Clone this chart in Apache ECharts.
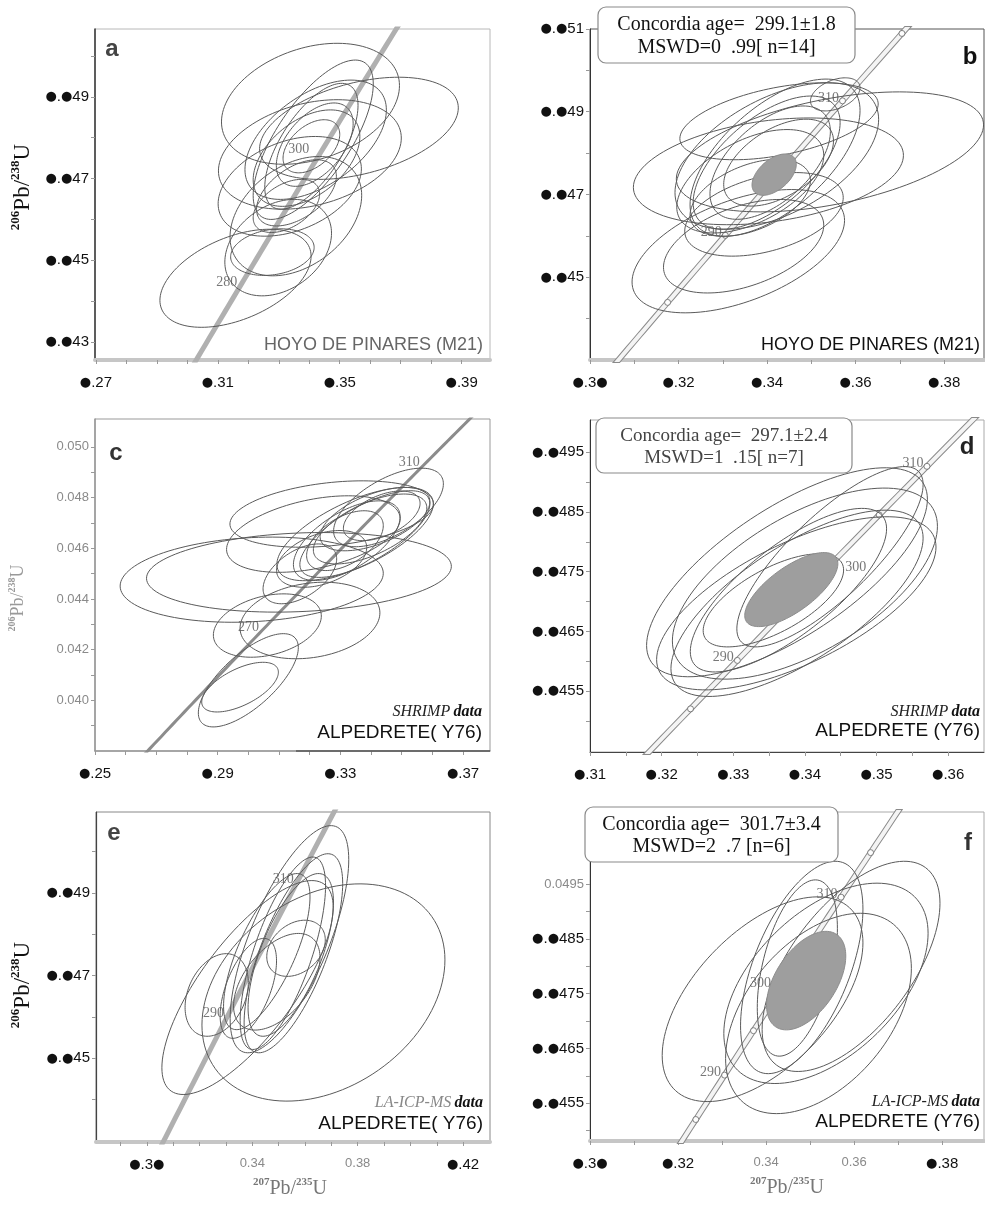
<!DOCTYPE html>
<html>
<head>
<meta charset="utf-8">
<script src="https://cdn.jsdelivr.net/npm/echarts@6/dist/echarts.min.js"></script>
<style>
  html, body { margin: 0; padding: 0; background: #fff; }
  #chart { width: 985px; height: 1208px; }
</style>
</head>
<body>
<div id="chart"></div>
<script>
// U decay constants (per year), used for the Wetherill concordia curve
const LAMBDA_238 = 1.55125e-10;
const LAMBDA_235 = 9.8485e-10;

// Analyses as error ellipses: [207Pb/235U, ±, 206Pb/238U, ±, rho]
const ellipsesA = [
  [0.3404, 0.0292, 0.04883, 0.00148, 0.30],
  [0.3563, 0.0326, 0.04823, 0.00125, 0.40],
  [0.3402, 0.0300, 0.04759, 0.00134, 0.30],
  [0.3356, 0.0216, 0.04608, 0.00146, 0.35],
  [0.3298, 0.0175, 0.04531, 0.00118, 0.30],
  [0.3158, 0.0248, 0.04456, 0.00120, 0.45],
  [0.3279, 0.0137, 0.04520, 0.00057, 0.20],
  [0.3413, 0.0197, 0.04795, 0.00195, 0.70],
  [0.3407, 0.0153, 0.04779, 0.00154, 0.65],
  [0.3418, 0.0126, 0.04783, 0.00102, 0.50],
  [0.3421, 0.0232, 0.04795, 0.00146, 0.50],
  [0.3407, 0.0093, 0.04779, 0.00065, 0.45],
  [0.3391, 0.0175, 0.04750, 0.00118, 0.45],
  [0.3358, 0.0131, 0.04665, 0.00081, 0.50],
  [0.3325, 0.0109, 0.04633, 0.00065, 0.45],
  [0.3336, 0.0235, 0.04681, 0.00122, 0.35]
];
const ellipsesB = [
  [0.3542, 0.0347, 0.04803, 0.00145, 0.45],
  [0.3403, 0.0305, 0.04756, 0.00129, 0.30],
  [0.3335, 0.0240, 0.04563, 0.00149, 0.50],
  [0.3347, 0.0181, 0.04575, 0.00113, 0.45],
  [0.3393, 0.0179, 0.04652, 0.00101, 0.40],
  [0.3422, 0.0230, 0.04793, 0.00177, 0.50],
  [0.3418, 0.0192, 0.04789, 0.00190, 0.60],
  [0.3399, 0.0166, 0.04777, 0.00161, 0.60],
  [0.3407, 0.0136, 0.04777, 0.00137, 0.55],
  [0.3426, 0.0124, 0.04777, 0.00105, 0.50],
  [0.3362, 0.0166, 0.04732, 0.00125, 0.50],
  [0.3362, 0.0136, 0.04692, 0.00093, 0.45],
  [0.3554, 0.0056, 0.04942, 0.00040, 0.40],
  [0.3427, 0.0224, 0.04877, 0.00093, 0.45]
];
const ellipsesC = [
  [0.3011, 0.0429, 0.04476, 0.00168, 0.15],
  [0.3165, 0.0497, 0.04505, 0.00157, 0.15],
  [0.3272, 0.0332, 0.04735, 0.00131, 0.30],
  [0.3062, 0.0176, 0.04295, 0.00125, 0.30],
  [0.3201, 0.0228, 0.04315, 0.00151, 0.20],
  [0.3000, 0.0163, 0.04079, 0.00184, 0.70],
  [0.2973, 0.0125, 0.04052, 0.00098, 0.60],
  [0.3348, 0.0255, 0.04656, 0.00184, 0.65],
  [0.3380, 0.0212, 0.04656, 0.00171, 0.70],
  [0.3397, 0.0185, 0.04676, 0.00138, 0.60],
  [0.3457, 0.0179, 0.04761, 0.00155, 0.60],
  [0.3413, 0.0179, 0.04715, 0.00125, 0.55],
  [0.3321, 0.0174, 0.04630, 0.00157, 0.60],
  [0.3315, 0.0125, 0.04630, 0.00118, 0.50],
  [0.3435, 0.0125, 0.04728, 0.00098, 0.50],
  [0.3239, 0.0147, 0.04558, 0.00112, 0.40],
  [0.3212, 0.0283, 0.04656, 0.00151, 0.40],
  [0.3168, 0.0120, 0.04499, 0.00118, 0.50]
];
const ellipsesD = [
  [0.3375, 0.0196, 0.04749, 0.00175, 0.70],
  [0.3388, 0.0195, 0.04697, 0.00145, 0.65],
  [0.3389, 0.0176, 0.04697, 0.00156, 0.70],
  [0.3377, 0.0137, 0.04719, 0.00137, 0.75],
  [0.3356, 0.0098, 0.04702, 0.00078, 0.65],
  [0.3435, 0.0130, 0.04775, 0.00151, 0.80],
  [0.3400, 0.0185, 0.04730, 0.00160, 0.60]
];
const ellipsesE = [
  [0.3670, 0.0461, 0.04659, 0.00263, 0.30],
  [0.3382, 0.0325, 0.04671, 0.00259, 0.75],
  [0.3265, 0.0120, 0.04653, 0.00100, 0.30],
  [0.3541, 0.0225, 0.04788, 0.00275, 0.70],
  [0.3556, 0.0187, 0.04754, 0.00241, 0.70],
  [0.3516, 0.0162, 0.04754, 0.00233, 0.70],
  [0.3546, 0.0162, 0.04750, 0.00197, 0.65],
  [0.3455, 0.0164, 0.04758, 0.00189, 0.70],
  [0.3566, 0.0111, 0.04766, 0.00068, 0.30],
  [0.3385, 0.0107, 0.04669, 0.00121, 0.55],
  [0.3493, 0.0164, 0.04685, 0.00117, 0.50]
];
const ellipsesF = [
  [0.3392, 0.0228, 0.04740, 0.00187, 0.55],
  [0.3593, 0.0202, 0.04800, 0.00192, 0.60],
  [0.3536, 0.0232, 0.04769, 0.00183, 0.50],
  [0.3481, 0.0139, 0.04798, 0.00194, 0.55],
  [0.3471, 0.0091, 0.04797, 0.00161, 0.45],
  [0.3519, 0.0211, 0.04714, 0.00183, 0.45]
];

// Concordia-age ellipses (filled)
const meanB = [[0.3416, 0.0050, 0.04748, 0.00050, 0.50]];
const meanD = [[0.3381, 0.0065, 0.04720, 0.00062, 0.70]];
const meanF = [[0.3491, 0.0090, 0.04774, 0.00090, 0.50]];

// Age ticks on the concordia (Ma) and the ones that carry a label
const markerAgesB = [280, 290, 300, 310, 320];
const markerAgesD = [285, 290, 295, 300, 305, 310];
const markerAgesF = [285, 290, 295, 300, 305, 310, 315];
const labelAgesA = [280, 300];
const labelAgesB = [290, 310];
const labelAgesC = [270, 310];
const labelAgesD = [290, 300, 310];
const labelAgesE = [290, 310];
const labelAgesF = [290, 300, 310];

// Axis ticks and their printed labels
const xTicksA = [0.27, 0.31, 0.35, 0.39];
const xLabelsA = ['●.27', '●.31', '●.35', '●.39'];
const xMinorA = [0.28, 0.29, 0.30, 0.32, 0.33, 0.34, 0.36, 0.37, 0.38];
const yTicksA = [0.043, 0.045, 0.047, 0.049];
const yLabelsA = ['●.●43', '●.●45', '●.●47', '●.●49'];
const yMinorA = [0.044, 0.046, 0.048, 0.050];

const xTicksB = [0.30, 0.32, 0.34, 0.36, 0.38];
const xLabelsB = ['●.3●', '●.32', '●.34', '●.36', '●.38'];
const xMinorB = [0.31, 0.33, 0.35, 0.37];
const yTicksB = [0.045, 0.047, 0.049, 0.051];
const yLabelsB = ['●.●45', '●.●47', '●.●49', '●.●51'];
const yMinorB = [0.044, 0.046, 0.048, 0.050];

const xTicksC = [0.25, 0.29, 0.33, 0.37];
const xLabelsC = ['●.25', '●.29', '●.33', '●.37'];
const xMinorC = [0.26, 0.27, 0.28, 0.30, 0.31, 0.32, 0.34, 0.35, 0.36];
const yTicksC = [0.040, 0.042, 0.044, 0.046, 0.048, 0.050];
const yLabelsC = ['0.040', '0.042', '0.044', '0.046', '0.048', '0.050'];
const yMinorC = [0.039, 0.041, 0.043, 0.045, 0.047, 0.049];

const xTicksD = [0.31, 0.32, 0.33, 0.34, 0.35, 0.36];
const xLabelsD = ['●.31', '●.32', '●.33', '●.34', '●.35', '●.36'];
const xMinorD = [0.315, 0.325, 0.335, 0.345, 0.355];
const yTicksD = [0.0455, 0.0465, 0.0475, 0.0485, 0.0495];
const yLabelsD = ['●.●455', '●.●465', '●.●475', '●.●485', '●.●495'];
const yMinorD = [0.0450, 0.0460, 0.0470, 0.0480, 0.0490];

const xTicksE = [0.30, 0.34, 0.38, 0.42];
const xLabelsE = ['●.3●', '0.34', '0.38', '●.42'];
const xMinorE = [0.29, 0.31, 0.32, 0.33, 0.35, 0.36, 0.37, 0.39, 0.40, 0.41];
const yTicksE = [0.045, 0.047, 0.049];
const yLabelsE = ['●.●45', '●.●47', '●.●49'];
const yMinorE = [0.044, 0.046, 0.048, 0.050];

const xTicksF = [0.30, 0.32, 0.34, 0.36, 0.38];
const xLabelsF = ['●.3●', '●.32', '0.34', '0.36', '●.38'];
const xMinorF = [0.31, 0.33, 0.35, 0.37];
const yTicksF = [0.0455, 0.0465, 0.0475, 0.0485, 0.0495];
const yLabelsF = ['●.●455', '●.●465', '●.●475', '●.●485', '0.0495'];
const yMinorF = [0.0450, 0.0460, 0.0470, 0.0480, 0.0490, 0.0500];

// Panel text
const sampleAB = 'HOYO DE PINARES (M21)';
const summaryB = ['Concordia age=  299.1±1.8', 'MSWD=0  .99[ n=14]'];
const summaryD = ['Concordia age=  297.1±2.4', 'MSWD=1  .15[ n=7]'];
const summaryF = ['Concordia age=  301.7±3.4', 'MSWD=2  .7 [n=6]'];

// ---------------------------------------------------------------------------

const MA = 1e6;
function concordiaPoint(age) {
  return [Math.exp(LAMBDA_235 * age * MA) - 1, Math.exp(LAMBDA_238 * age * MA) - 1];
}
const curveAges = [];
for (let t = 220; t <= 340; t += 1) curveAges.push(t);
const concordiaCurve = curveAges.map(concordiaPoint);

const SANS = '"Liberation Sans", Arial, sans-serif';
const SERIF = '"Liberation Serif", "Times New Roman", serif';

const panels = [
  { key: 'a', grid: { left: 95, top: 29, width: 395, height: 331 },
    x: [0.2697, 0.3993], y: [0.04256, 0.05066],
    xT: xTicksA, xL: xLabelsA, xM: xMinorA, yT: yTicksA, yL: yLabelsA, yM: yMinorA,
    ell: ellipsesA, mean: null, markers: [], labels: labelAgesA, band: 'solid',
    leftLine: { color: '#333', width: 1.5 }, bottomLine: { color: '#c6c6c6', width: 4 }, border: '#b8b8b8' },
  { key: 'b', grid: { left: 590, top: 29, width: 394, height: 331 },
    x: [0.30, 0.389], y: [0.0430, 0.0510],
    xT: xTicksB, xL: xLabelsB, xM: xMinorB, yT: yTicksB, yL: yLabelsB, yM: yMinorB,
    ell: ellipsesB, mean: meanB, markers: markerAgesB, labels: labelAgesB, band: 'double',
    leftLine: { color: '#333', width: 1 }, bottomLine: { color: '#c6c6c6', width: 4 }, border: '#555' },
  { key: 'c', grid: { left: 95, top: 419, width: 395, height: 332 },
    x: [0.25, 0.3788], y: [0.0380, 0.0511],
    xT: xTicksC, xL: xLabelsC, xM: xMinorC, yT: yTicksC, yL: yLabelsC, yM: yMinorC,
    ell: ellipsesC, mean: null, markers: [], labels: labelAgesC, band: 'thin',
    leftLine: { color: '#999', width: 1.5 }, bottomLine: { color: '#999', width: 1.5 }, border: '#999' },
  { key: 'd', grid: { left: 590, top: 420, width: 394, height: 332 },
    x: [0.31, 0.365], y: [0.04448, 0.05004],
    xT: xTicksD, xL: xLabelsD, xM: xMinorD, yT: yTicksD, yL: yLabelsD, yM: yMinorD,
    ell: ellipsesD, mean: meanD, markers: markerAgesD, labels: labelAgesD, band: 'double',
    leftLine: { color: '#333', width: 1 }, bottomLine: { color: '#444', width: 1 }, border: '#aaa' },
  { key: 'e', grid: { left: 96, top: 812, width: 394, height: 330 },
    x: [0.2807, 0.4302], y: [0.04297, 0.05096],
    xT: xTicksE, xL: xLabelsE, xM: xMinorE, yT: yTicksE, yL: yLabelsE, yM: yMinorE,
    ell: ellipsesE, mean: null, markers: [], labels: labelAgesE, band: 'solid',
    leftLine: { color: '#444', width: 1.2 }, bottomLine: { color: '#c6c6c6', width: 4 }, border: '#888' },
  { key: 'f', grid: { left: 590, top: 812, width: 394, height: 329 },
    x: [0.30, 0.3895], y: [0.04481, 0.05082],
    xT: xTicksF, xL: xLabelsF, xM: xMinorF, yT: yTicksF, yL: yLabelsF, yM: yMinorF,
    ell: ellipsesF, mean: meanF, markers: markerAgesF, labels: labelAgesF, band: 'double',
    leftLine: { color: '#333', width: 1 }, bottomLine: { color: '#c6c6c6', width: 4 }, border: '#aaa' }
];

// tick label styles: dark labels with heavy round zeros, and light grey ones
const tickRich = {
  d: { color: '#111', fontFamily: SANS, fontSize: 15 },
  k: { color: '#111', fontFamily: '"DejaVu Sans", sans-serif', fontSize: 13, fontWeight: 'bold' },
  g: { color: '#8a8a8a', fontFamily: SANS, fontSize: 13 }
};
function tickFormatter(ticks, labels) {
  return function (v) {
    const i = ticks.findIndex(t => Math.abs(t - v) < 1e-9);
    if (i < 0) return '';
    const s = labels[i];
    if (s.indexOf('●') < 0) return '{g|' + s + '}';
    // split into runs so the round glyphs can be sized separately
    return s.split(/(●)/).filter(part => part.length)
      .map(part => part === '●' ? '{k|●}' : '{d|' + part + '}').join('');
  };
}

function ellipseRenderer(filled) {
  return function (params, api) {
    const cx = api.value(0), dx = api.value(1), cy = api.value(2), dy = api.value(3), r = api.value(4);
    const s = Math.sqrt(1 - r * r);
    const pts = [];
    const n = 120;
    for (let i = 0; i < n; i++) {
      const t = i / n * Math.PI * 2;
      pts.push(api.coord([cx + dx * Math.cos(t), cy + dy * (r * Math.cos(t) + s * Math.sin(t))]));
    }
    const cs = params.coordSys;
    return {
      type: 'polygon',
      shape: { points: pts },
      clipPath: { type: 'rect', shape: { x: cs.x, y: cs.y, width: cs.width, height: cs.height } },
      style: filled
        ? { fill: '#9e9e9e', stroke: '#8c8c8c', lineWidth: 1 }
        : { fill: 'none', stroke: '#5a5a5a', lineWidth: 1 }
    };
  };
}

const grids = [], xAxes = [], yAxes = [], series = [];

panels.forEach((p, i) => {
  grids.push(Object.assign({ show: true, borderColor: p.border, borderWidth: 1, backgroundColor: 'transparent' }, p.grid));

  xAxes.push({
    gridIndex: i, type: 'value', min: p.x[0], max: p.x[1],
    axisLine: { show: true, onZero: false, lineStyle: p.bottomLine },
    axisTick: { show: true, customValues: p.xT.concat(p.xM), length: 4, lineStyle: { color: '#999' } },
    axisLabel: { show: true, customValues: p.xT, formatter: tickFormatter(p.xT, p.xL), rich: tickRich, margin: 15, hideOverlap: false },
    splitLine: { show: false }
  });
  yAxes.push({
    gridIndex: i, type: 'value', min: p.y[0], max: p.y[1],
    axisLine: { show: true, onZero: false, lineStyle: p.leftLine },
    axisTick: { show: true, customValues: p.yT.concat(p.yM), length: 4, lineStyle: { color: '#999' } },
    axisLabel: { show: true, customValues: p.yT, formatter: tickFormatter(p.yT, p.yL), rich: tickRich, margin: 6, hideOverlap: false },
    splitLine: { show: false }
  });

  // concordia band
  if (p.band === 'double') {
    series.push({ type: 'line', xAxisIndex: i, yAxisIndex: i, data: concordiaCurve, showSymbol: false, silent: true,
      clip: true, z: 1, lineStyle: { color: '#8a8a8a', width: 6 } });
    series.push({ type: 'line', xAxisIndex: i, yAxisIndex: i, data: concordiaCurve, showSymbol: false, silent: true,
      clip: true, z: 1, lineStyle: { color: '#f4f4f4', width: 4 } });
  } else {
    series.push({ type: 'line', xAxisIndex: i, yAxisIndex: i, data: concordiaCurve, showSymbol: false, silent: true,
      clip: true, z: 1, lineStyle: { color: p.band === 'thin' ? '#8c8c8c' : '#b0b0b0', width: p.band === 'thin' ? 3 : 5 } });
  }

  if (p.markers.length) {
    series.push({ type: 'scatter', xAxisIndex: i, yAxisIndex: i, data: p.markers.map(concordiaPoint), silent: true,
      symbol: 'circle', symbolSize: 6, z: 2, itemStyle: { color: '#fff', borderColor: '#666', borderWidth: 1 } });
  }
  series.push({ type: 'custom', xAxisIndex: i, yAxisIndex: i, data: p.ell, clip: true, silent: true, z: 3,
    encode: { x: 0, y: 2 }, renderItem: ellipseRenderer(false) });
  if (p.mean) {
    series.push({ type: 'custom', xAxisIndex: i, yAxisIndex: i, data: p.mean, clip: true, silent: true, z: 4,
      encode: { x: 0, y: 2 }, renderItem: ellipseRenderer(true) });
  }
  series.push({ type: 'scatter', xAxisIndex: i, yAxisIndex: i, silent: true, symbolSize: 1, z: 6,
    itemStyle: { color: 'rgba(0,0,0,0)' },
    data: p.labels.map(a => ({ value: concordiaPoint(a), age: a })),
    label: { show: true, position: 'left', distance: 3,
      formatter: prm => String(prm.data.age),
      fontFamily: SERIF, fontSize: 14, color: '#555',
      offset: [0, -3] }
  });
});

// label placement tweaks: d's 300 sits right of its tick; a's and f's 300 a little further left
series.forEach(s => {
  if (s.type === 'scatter' && s.label) {
    if (s.xAxisIndex === 3) {
      s.data = s.data.map(d => d.age === 300 ? Object.assign({}, d, { label: { position: 'right', offset: [10, 4] } }) : d);
    }
    if (s.xAxisIndex === 0 || s.xAxisIndex === 5) {
      s.data = s.data.map(d => d.age === 300 ? Object.assign({}, d, { label: { offset: [-8, -3] } }) : d);
    }
  }
});

// ---- annotations ----
const graphic = [];
function text(x, y, str, style, extra) {
  graphic.push(Object.assign({ type: 'text', x: x, y: y, z: 100, silent: true,
    style: Object.assign({ text: str, align: 'center', verticalAlign: 'middle' }, style) }, extra || {}));
}

// panel letters
[['a', 112, 49, '#444'], ['b', 970, 57, '#111'], ['c', 116, 453, '#333'],
 ['d', 967, 447, '#222'], ['e', 114, 833, '#444'], ['f', 968, 843, '#333']].forEach(l => {
  text(l[1], l[2], l[0], { font: 'bold 24px ' + SANS, fill: l[3] });
});

// sample names
text(483, 345, sampleAB, { font: '18px ' + SANS, fill: '#666', align: 'right' });
text(980, 345, sampleAB, { font: '18px ' + SANS, fill: '#111', align: 'right' });

const tagRich = {
  i: { fontFamily: SERIF, fontStyle: 'italic', fontSize: 16, fill: '#222' },
  ig: { fontFamily: SERIF, fontStyle: 'italic', fontSize: 16, fill: '#888' },
  b: { fontFamily: SERIF, fontStyle: 'italic', fontWeight: 'bold', fontSize: 16, fill: '#111' }
};
text(482, 712, '{i|SHRIMP} {b|data}', { rich: tagRich, align: 'right' });
text(482, 733, 'ALPEDRETE( Y76)', { font: '19px ' + SANS, fill: '#111', align: 'right' });
text(980, 712, '{i|SHRIMP} {b|data}', { rich: tagRich, align: 'right' });
text(980, 731, 'ALPEDRETE (Y76)', { font: '19px ' + SANS, fill: '#111', align: 'right' });
text(483, 1103, '{ig|LA-ICP-MS} {b|data}', { rich: tagRich, align: 'right' });
text(483, 1124, 'ALPEDRETE( Y76)', { font: '19px ' + SANS, fill: '#111', align: 'right' });
text(980, 1102, '{i|LA-ICP-MS} {b|data}', { rich: tagRich, align: 'right' });
text(980, 1122, 'ALPEDRETE (Y76)', { font: '19px ' + SANS, fill: '#111', align: 'right' });

// dark rule under the sample name in panel c
graphic.push({ type: 'line', z: 100, silent: true, shape: { x1: 296, y1: 751, x2: 490, y2: 751 },
  style: { stroke: '#333', lineWidth: 1.2 } });

// concordia age boxes
function summaryBox(x, y, w, h, lines, color, size) {
  graphic.push({ type: 'rect', z: 99, silent: true, shape: { x: x, y: y, width: w, height: h, r: 8 },
    style: { fill: '#fff', stroke: '#8a8a8a', lineWidth: 1.2 } });
  text(x + w / 2, y + h * 0.32, lines[0], { font: size + 'px ' + SERIF, fill: color });
  text(x + w / 2, y + h * 0.72, lines[1], { font: size + 'px ' + SERIF, fill: color });
}
summaryBox(598, 7, 257, 56, summaryB, '#111', 20);
summaryBox(596, 418, 256, 55, summaryD, '#444', 19);
summaryBox(585, 807, 253, 55, summaryF, '#111', 20);

// axis titles
const ratioRich = function (size, color) {
  return {
    n: { fontFamily: SERIF, fontSize: size, fill: color, lineHeight: size + 2, verticalAlign: 'bottom' },
    s: { fontFamily: SERIF, fontSize: Math.round(size * 0.55), fill: color, fontWeight: 'bold', lineHeight: size + 2, verticalAlign: 'top' }
  };
};
text(22, 187, '{s|206}{n|Pb/}{s|238}{n|U}', { rich: ratioRich(23, '#111') }, { rotation: Math.PI / 2 });
text(17, 598, '{s|206}{n|Pb/}{s|238}{n|U}', { rich: ratioRich(18, '#999') }, { rotation: Math.PI / 2 });
text(22, 985, '{s|206}{n|Pb/}{s|238}{n|U}', { rich: ratioRich(23, '#111') }, { rotation: Math.PI / 2 });
text(290, 1188, '{s|207}{n|Pb/}{s|235}{n|U}', { rich: ratioRich(20, '#777') });
text(787, 1187, '{s|207}{n|Pb/}{s|235}{n|U}', { rich: ratioRich(20, '#777') });

const chart = echarts.init(document.getElementById('chart'));
chart.setOption({
  animation: false,
  backgroundColor: '#fff',
  grid: grids,
  xAxis: xAxes,
  yAxis: yAxes,
  series: series,
  graphic: graphic
});
</script>
</body>
</html>
